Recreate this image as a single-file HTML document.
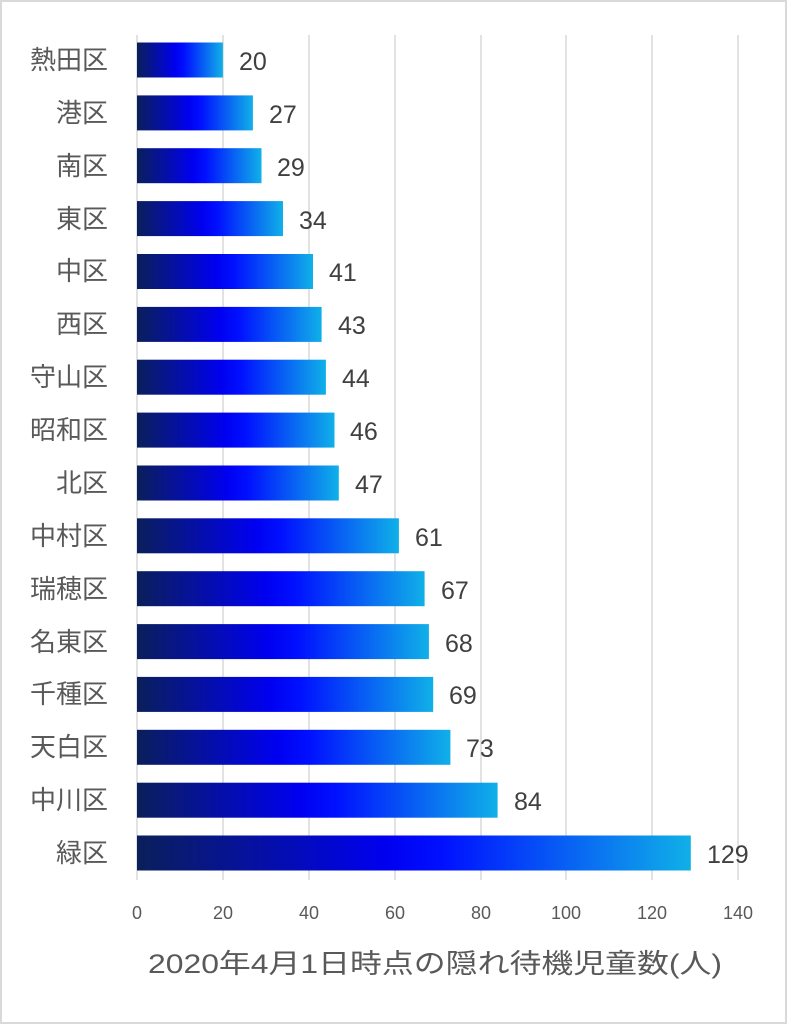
<!DOCTYPE html>
<html><head><meta charset="utf-8"><style>
body{margin:0;width:787px;height:1024px;background:#fff;overflow:hidden}
.f{position:absolute;left:0;top:0;width:783px;height:1020px;border:2px solid #d9d9d9}
</style></head><body><div class="f"></div>
<svg width="787" height="1024" style="position:absolute;left:0;top:0" font-family="'Liberation Sans','Noto Sans CJK JP',sans-serif">
<defs><linearGradient id="g" x1="0" x2="1" y1="0" y2="0">
<stop offset="0" stop-color="#0a1f5a"/><stop offset="0.45" stop-color="#0000f0"/><stop offset="0.55" stop-color="#0010ff"/><stop offset="1" stop-color="#10b0e8"/></linearGradient></defs>
<g stroke="#d9d9d9" stroke-width="1.5">
<line x1="223" y1="35" x2="223" y2="880"/><line x1="309" y1="35" x2="309" y2="880"/><line x1="395" y1="35" x2="395" y2="880"/><line x1="481" y1="35" x2="481" y2="880"/><line x1="566" y1="35" x2="566" y2="880"/><line x1="652" y1="35" x2="652" y2="880"/><line x1="738" y1="35" x2="738" y2="880"/><line x1="137" y1="35" x2="137" y2="880"/>
</g>
<g fill="url(#g)">
<rect x="137" y="42.5" width="85.9" height="35"/>
<rect x="137" y="95.4" width="115.9" height="35"/>
<rect x="137" y="148.2" width="124.5" height="35"/>
<rect x="137" y="201.1" width="146" height="35"/>
<rect x="137" y="254" width="176" height="35"/>
<rect x="137" y="306.9" width="184.6" height="35"/>
<rect x="137" y="359.7" width="188.9" height="35"/>
<rect x="137" y="412.6" width="197.5" height="35"/>
<rect x="137" y="465.5" width="201.8" height="35"/>
<rect x="137" y="518.3" width="261.9" height="35"/>
<rect x="137" y="571.2" width="287.6" height="35"/>
<rect x="137" y="624.1" width="291.9" height="35"/>
<rect x="137" y="676.9" width="296.2" height="35"/>
<rect x="137" y="729.8" width="313.4" height="35"/>
<rect x="137" y="782.7" width="360.6" height="35"/>
<rect x="137" y="835.5" width="553.8" height="35"/>
</g>
<g font-size="26" fill="#595959" text-anchor="end">
<text x="108" y="69">熱田区</text><text x="108" y="122">港区</text><text x="108" y="175">南区</text><text x="108" y="228">東区</text><text x="108" y="280">中区</text><text x="108" y="333">西区</text><text x="108" y="386">守山区</text><text x="108" y="439">昭和区</text><text x="108" y="492">北区</text><text x="108" y="545">中村区</text><text x="108" y="598">瑞穂区</text><text x="108" y="651">名東区</text><text x="108" y="703">千種区</text><text x="108" y="756">天白区</text><text x="108" y="809">中川区</text><text x="108" y="862">緑区</text>
</g>
<g font-size="25" fill="#404040">
<text x="239" y="70">20</text><text x="269" y="123">27</text><text x="277" y="176">29</text><text x="299" y="229">34</text><text x="329" y="281">41</text><text x="338" y="334">43</text><text x="342" y="387">44</text><text x="350" y="440">46</text><text x="355" y="493">47</text><text x="415" y="546">61</text><text x="441" y="599">67</text><text x="445" y="652">68</text><text x="449" y="704">69</text><text x="466" y="757">73</text><text x="514" y="810">84</text><text x="707" y="863">129</text>
</g>
<g font-size="18" fill="#595959" text-anchor="middle">
<text x="137" y="919">0</text><text x="223" y="919">20</text><text x="309" y="919">40</text><text x="395" y="919">60</text><text x="481" y="919">80</text><text x="566" y="919">100</text><text x="652" y="919">120</text><text x="738" y="919">140</text>
</g>
<text x="148" y="973" font-size="27" fill="#595959" textLength="574" lengthAdjust="spacingAndGlyphs">2020年4月1日時点の隠れ待機児童数(人)</text>
</svg></body></html>
